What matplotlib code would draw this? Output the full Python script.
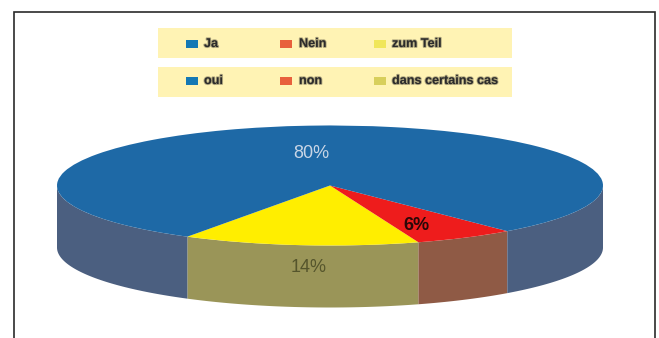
import numpy as np
import matplotlib
matplotlib.use("Agg")
import matplotlib.pyplot as plt
from matplotlib.patches import Rectangle
import matplotlib.patheffects as pe

W, H = 659, 338

# legend, two rows (de / fr)
labels_de = ["Ja", "Nein", "zum Teil"]
labels_fr = ["oui", "non", "dans certains cas"]
legend_colors = ["#1478B4", "#E8603C", "#F0E65A"]
legend_colors_fr = ["#1478B4", "#E8603C", "#D8CF5C"]

# slices go counter clockwise from the left edge of the yellow one
slice_names = ["zum Teil", "Nein", "Ja"]
slice_share = [14, 6, 80]
slice_text = ["14%", "6%", "80%"]
top_colors = ["#FFEE00", "#EE1C1C", "#1E69A6"]
side_colors = ["#9A9558", "#8F5A45", "#4B5F80"]
start_angle = 238.5

plt.rcParams["font.family"] = ["Liberation Sans", "DejaVu Sans"]
fig = plt.figure(figsize=(W / 100, H / 100), dpi=100, facecolor="white")

bg = fig.add_axes([0, 0, 1, 1])
bg.set_xlim(0, W)
bg.set_ylim(H, 0)
bg.axis("off")

# frame, open at the bottom
bg.plot([13.5, 13.5, 655, 655], [H, 11.5, 11.5, H], color="#2a2a2a", lw=1.2,
        solid_joinstyle="miter")

# legend strips
bg.add_patch(Rectangle((158, 28), 354, 30, color="#FFF3B4", lw=0))
bg.add_patch(Rectangle((158, 67), 354, 30, color="#FFF3B4", lw=0))
marker_x = [186, 280, 374]
text_x = [204, 299, 392]
soft = [pe.withStroke(linewidth=1.4, foreground="#555040", alpha=0.45)]
for row_y, labels, cols in [(44, labels_de, legend_colors), (81, labels_fr, legend_colors_fr)]:
    for mx, tx, lab, col in zip(marker_x, text_x, labels, cols):
        bg.add_patch(Rectangle((mx, row_y - 4), 12, 8, color=col, lw=0))
        bg.text(tx, row_y, lab, fontsize=9.1, fontweight="bold", color="#2b2b2b",
                ha="left", va="center", path_effects=soft)

# pie: x -1..1 is pixels 57..603, y 1..-1 is pixels 125..245
rx, ry = 273, 60
side_px = 62
depth = side_px / ry
ax = fig.add_axes([57 / W, 1 - (125.5 + 2 * ry + side_px) / H, 2 * rx / W, (2 * ry + side_px) / H])

edges = start_angle + np.cumsum([0] + slice_share) * 3.6
for a, b, col in zip(edges[:-1], edges[1:], side_colors):
    # the front of the cake is 180..360 degrees, a slice may wrap round
    for shift in (0, 360):
        lo, hi = max(a, 180 + shift), min(b, 360 + shift)
        if hi <= lo:
            continue
        th = np.radians(np.linspace(lo, hi, 60))
        xs = np.r_[np.cos(th), np.cos(th)[::-1]]
        ys = np.r_[np.sin(th), np.sin(th)[::-1] - depth]
        ax.fill(xs, ys, color=col, lw=0)

ax.pie(slice_share, colors=top_colors, startangle=start_angle, radius=1,
       wedgeprops={"linewidth": 0})
ax.set_aspect("auto")
ax.set_xlim(-1, 1)
ax.set_ylim(-1 - depth, 1)
ax.axis("off")

label_pos = [(309, 268), (416, 226), (311, 154)]
label_col = ["#55552c", "#2a0808", "#C9D6E6"]
label_weight = ["normal", "bold", "normal"]
for (x, y), t, c, w in zip(label_pos, slice_text, label_col, label_weight):
    bg.text(x, y, t, fontsize=13, fontweight=w, color=c, ha="center", va="center", zorder=5)
bg.set_zorder(2)
bg.patch.set_alpha(0)

fig.savefig("out.png", dpi=100)
